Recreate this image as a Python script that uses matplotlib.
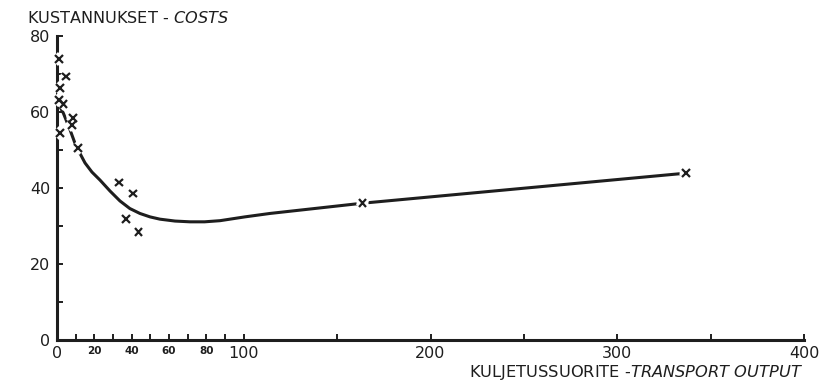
import matplotlib
matplotlib.use("Agg")
import matplotlib.pyplot as plt
import matplotlib.patheffects as pe

plt.rcParams["font.family"] = ["DejaVu Sans"]
plt.rcParams["mathtext.fontset"] = "dejavusans"

# Observed costs against transport output
obs_output = [1.0, 4.7, 1.6, 3.4, 1.2, 8.6, 7.9, 1.6, 11.2, 33.2, 40.8, 36.9, 43.7, 163.6, 336.7]
obs_cost = [74.0, 69.3, 66.3, 62.1, 63.2, 58.4, 56.6, 54.5, 50.5, 41.4, 38.6, 31.8, 28.5, 36.0, 43.9]

# Fitted cost curve
fit_output = [0.5, 1.8, 3.4, 5.2, 7.0, 9.6, 12.3, 15.0, 18.7, 23.0, 28.4, 33.7, 39.0, 44.4,
              49.8, 55.1, 63.2, 71.2, 79.0, 87.3, 100.6, 114.0, 163.6, 336.7]
fit_cost = [63.0, 61.2, 59.7, 57.5, 55.3, 51.8, 49.1, 46.6, 44.2, 42.1, 39.2, 36.6, 34.6, 33.3,
            32.4, 31.8, 31.3, 31.1, 31.1, 31.4, 32.4, 33.3, 36.0, 43.9]

x_ticks = [0, 10, 20, 30, 40, 50, 60, 70, 80, 90, 100, 150, 200, 250, 300, 350, 400]
x_labels = ["0", "", "20", "", "40", "", "60", "", "80", "", "100", "", "200", "", "300", "", "400"]
small_labels = {"20", "40", "60", "80"}
y_ticks = [0, 10, 20, 30, 40, 50, 60, 70, 80]
y_labels = ["0", "", "20", "", "40", "", "60", "", "80"]

ink = "#1e1e1e"

fig = plt.figure(figsize=(8.26, 3.82), dpi=100)
fig.patch.set_facecolor("white")
ax = fig.add_axes([57 / 826, 42 / 382, 747 / 826, 304 / 382])

ax.plot(fit_output, fit_cost, color=ink, lw=2.2, solid_capstyle="butt",
        solid_joinstyle="round", zorder=2, clip_on=False)
ax.plot(obs_output, obs_cost, linestyle="none", marker="x", ms=5.5, mew=1.6, color=ink,
        zorder=3, clip_on=False,
        path_effects=[pe.Stroke(linewidth=6, foreground="white"), pe.Normal()])

ax.set_xlim(0, 400)
ax.set_ylim(0, 80)
for side in ("top", "right"):
    ax.spines[side].set_visible(False)
for side in ("left", "bottom"):
    ax.spines[side].set_linewidth(2.2)
    ax.spines[side].set_color(ink)

ax.set_xticks(x_ticks)
ax.set_xticklabels(x_labels)
ax.set_yticks(y_ticks)
ax.set_yticklabels(y_labels)
ax.tick_params(axis="both", direction="in", length=4, width=1.4, color=ink,
               labelcolor=ink, labelsize=11.5)
ax.tick_params(axis="x", pad=4)
ax.tick_params(axis="y", pad=5)
for lab in ax.get_xticklabels():
    if lab.get_text() in small_labels:
        lab.set_fontsize(7.5)
        lab.set_fontweight("bold")

fig.text(27 / 826, 1 - 23 / 382, r"KUSTANNUKSET - $\mathit{COSTS}$", fontsize=11.6,
         color=ink, ha="left", va="baseline")
fig.text(803 / 826, 1 - 377 / 382, r"KULJETUSSUORITE -$\mathit{TRANSPORT\ OUTPUT}$",
         fontsize=11.7, color=ink, ha="right", va="baseline")

fig.savefig("out.png", dpi=100, facecolor="white")
